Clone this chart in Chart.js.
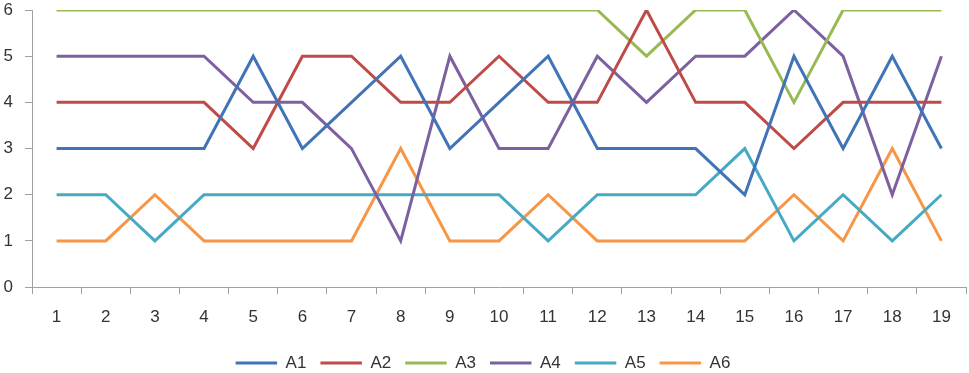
<!DOCTYPE html>
<html>
<head>
<meta charset="utf-8">
<script src="https://cdn.jsdelivr.net/npm/chart.js@4"></script>
<style>
html,body{margin:0;padding:0;background:#fff;}
#wrap{width:969px;height:373px;position:relative;}
</style>
</head>
<body>
<div id="wrap"><canvas id="c" width="969" height="373"></canvas></div>
<script>
const categories = ['1','2','3','4','5','6','7','8','9','10','11','12','13','14','15','16','17','18','19'];
const seriesNames = ['A1','A2','A3','A4','A5','A6'];
const A1 = [3,3,3,3,5,3,4,5,3,4,5,3,3,3,2,5,3,5,3];
const A2 = [4,4,4,4,3,5,5,4,4,5,4,4,6,4,4,3,4,4,4];
const A3 = [6,6,6,6,6,6,6,6,6,6,6,6,5,6,6,4,6,6,6];
const A4 = [5,5,5,5,4,4,3,1,5,3,3,5,4,5,5,6,5,2,5];
const A5 = [2,2,1,2,2,2,2,2,2,2,1,2,2,2,3,1,2,1,2];
const A6 = [1,1,2,1,1,1,1,3,1,1,2,1,1,1,1,2,1,3,1];
const yTicks = [0,1,2,3,4,5,6];

const colors = ['#4174B6','#BE4B48','#98B954','#7D60A0','#46AAC5','#F79646'];
const values = [A1,A2,A3,A4,A5,A6];

const datasets = seriesNames.map((n,i)=>({
  label:n, data:values[i], borderColor:colors[i], backgroundColor:colors[i],
  borderWidth:3, pointRadius:0, tension:0, pointStyle:'line'
}));

const FONT = {family:'Liberation Sans',size:17};

new Chart(document.getElementById('c'),{
  type:'line',
  data:{labels:categories, datasets},
  options:{
    responsive:false, animation:false, devicePixelRatio:1,
    layout:{padding:{left:0,right:3,top:1,bottom:-8.5}},
    plugins:{
      legend:{position:'bottom',
        labels:{usePointStyle:true,pointStyleWidth:41.5,boxHeight:3,color:'#333',
          font:FONT,padding:14}},
      tooltip:{enabled:false}
    },
    scales:{
      x:{type:'category',offset:true,
        grid:{offset:true,drawOnChartArea:false,tickLength:7,color:'#a0a0a0'},
        border:{color:'#a0a0a0',width:1},
        ticks:{color:'#333',font:FONT,padding:13,maxRotation:0,autoSkip:false}},
      y:{min:0,max:6,
        afterBuildTicks:(ax)=>{ax.ticks=yTicks.map(v=>({value:v}));},
        afterFit:(ax)=>{ax.width=32; ax.paddingTop=10; ax.paddingBottom=10;},
        grid:{drawOnChartArea:false,tickLength:7,color:'#a0a0a0'},
        border:{color:'#a0a0a0',width:1},
        ticks:{color:'#333',font:FONT,padding:12}}
    }
  }
});
</script>
</body>
</html>
